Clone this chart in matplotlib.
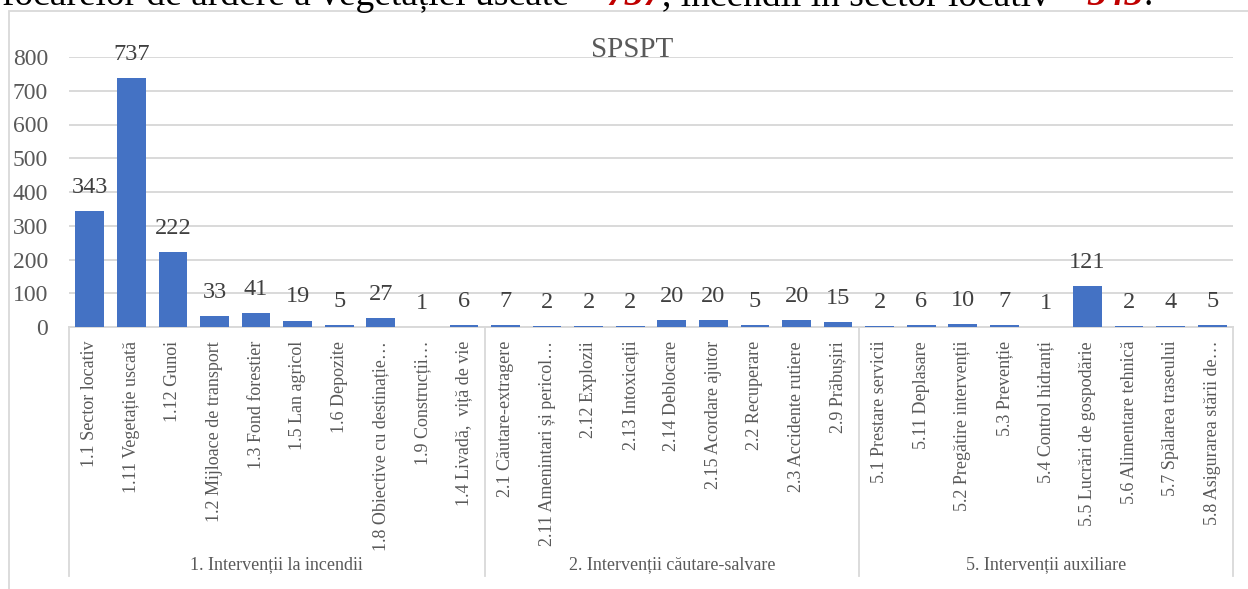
import matplotlib
matplotlib.use('Agg')
import matplotlib.pyplot as plt
from matplotlib.patches import Rectangle
from matplotlib import rcParams

rcParams['font.family'] = ['Liberation Serif', 'DejaVu Serif']

# data
groups = ['1. Intervenții la incendii', '2. Intervenții căutare-salvare',
          '5. Intervenții auxiliare']
group_sizes = [10, 9, 9]
categories = [
    '1.1 Sector locativ', '1.11 Vegetație uscată', '1.12 Gunoi',
    '1.2 Mijloace de transport', '1.3 Fond forestier', '1.5 Lan agricol',
    '1.6 Depozite', '1.8 Obiective cu destinație…', '1.9 Construcții…',
    '1.4 Livadă,  viță de vie',
    '2.1 Căutare-extragere', '2.11 Amenintari și pericol…', '2.12 Explozii',
    '2.13 Intoxicații', '2.14 Deblocare', '2.15 Acordare ajutor',
    '2.2 Recuperare', '2.3 Accidente rutiere', '2.9 Prăbușiri',
    '5.1 Prestare servicii', '5.11 Deplasare', '5.2 Pregătire intervenții',
    '5.3 Prevenție', '5.4 Control hidranți', '5.5 Lucrări de gospodărie',
    '5.6 Alimentare tehnică', '5.7 Spălarea traseului',
    '5.8 Asigurarea stării de…',
]
values = [343, 737, 222, 33, 41, 19, 5, 27, 1, 6,
          7, 2, 2, 2, 20, 20, 5, 20, 15,
          2, 6, 10, 7, 1, 121, 2, 4, 5]
yticks = [0, 100, 200, 300, 400, 500, 600, 700, 800]
title = 'SPSPT'
# sentence above the chart (cut off by the image edge, as in the source)
header_parts = ['focarelor de ardere a vegetației uscate – ', '737',
                ', incendii în sector locativ – ', '343', '.']
header_red = [False, True, False, True, False]

W, H = 1248, 589
fig = plt.figure(figsize=(W / 100, H / 100), dpi=100)

# chart frame
fig.add_artist(Rectangle((8.5 / W, -0.05), 1.2, (H - 11) / H + 0.05,
                         transform=fig.transFigure, fill=False,
                         edgecolor='#D9D9D9', lw=1.3))

ax = fig.add_axes([69 / W, (H - 327) / H, (1233 - 69) / W, 270 / H])
x = list(range(len(values)))
bars = ax.bar(x, values, width=0.69, color='#4472C4', zorder=3)
for xi, v in zip(x, values):
    ax.annotate(str(v), (xi, v), xytext=(0, 17), textcoords='offset points',
                ha='center', va='center', fontsize=17.5, color='#404040')

ax.set_xlim(-0.5, len(values) - 0.5)
ax.set_ylim(0, 800)
ax.set_yticks(yticks)
ax.tick_params(axis='y', length=0, pad=15, labelsize=17, labelcolor='#595959')
ax.yaxis.grid(True, color='#D9D9D9', lw=1.4, zorder=0)
ax.set_xticks(x)
ax.set_xticklabels(categories, rotation=90, va='top', ha='center',
                   fontsize=13, color='#595959')
ax.tick_params(axis='x', length=0, pad=10)
for s in ['top', 'right', 'left']:
    ax.spines[s].set_visible(False)
ax.spines['bottom'].set_color('#D9D9D9')
ax.spines['bottom'].set_linewidth(1.4)

# group separators and group labels
depth = -249 / 270
start = -0.5
for name, n in zip(groups, group_sizes):
    ax.plot([start, start], [0, depth], color='#D9D9D9', lw=1.3,
            transform=ax.get_xaxis_transform(), clip_on=False)
    ax.text(start + n / 2, -238 / 270, name, ha='center', va='center',
            fontsize=13, color='#595959', transform=ax.get_xaxis_transform())
    start += n
ax.plot([start, start], [0, depth], color='#D9D9D9', lw=1.3,
        transform=ax.get_xaxis_transform(), clip_on=False)

fig.text(632 / W, (H - 50) / H, title, ha='center', va='center',
         fontsize=21, color='#595959')

# header sentence, partly outside the image
renderer = fig.canvas.get_renderer()
xpos = 2 / W
for part, red in zip(header_parts, header_red):
    t = fig.text(xpos, (H - 5) / H, part, ha='left', va='baseline',
                 fontsize=27, color='#C00000' if red else 'black',
                 fontweight='bold' if red else 'normal',
                 fontstyle='italic' if red else 'normal')
    xpos += t.get_window_extent(renderer).width / W

fig.savefig('out.png', dpi=100)
